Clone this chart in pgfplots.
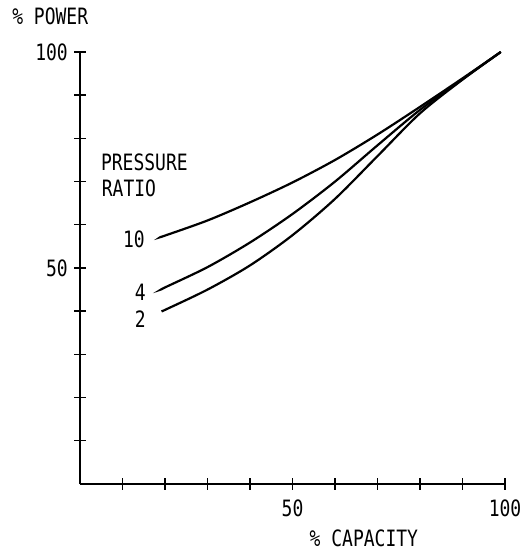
\documentclass[border=0pt]{standalone}
\usepackage{fontspec}
\setmainfont{DejaVu Sans Mono}[FakeStretch=0.8]
\usepackage{pgfplots}
\pgfplotsset{compat=1.18}
\begin{document}
\fontsize{22.5bp}{24bp}\selectfont
\begin{tikzpicture}[x=1bp,y=1bp]
\useasboundingbox (-80,-67) rectangle (440,484);
\begin{axis}[
  at={(0,0)}, anchor=origin,
  scale only axis, width=425bp, height=432bp,
  xmin=0, xmax=100, ymin=0, ymax=100,
  axis x line*=bottom, axis y line*=left,
  axis line style={line width=2bp, -},
  xtick={10,20,...,100}, ytick={10,20,...,100},
  xticklabels={,,,,50,,,,,100}, yticklabels={,,,,50,,,,,100},
  tick align=center, major tick length=11bp,
  tick style={line width=1.4bp, black},
  /pgf/number format/assume math mode=true,
  xticklabel style={font=\fontsize{22.5bp}{24bp}\selectfont, yshift=-3bp},
  yticklabel style={font=\fontsize{22.5bp}{24bp}\selectfont, xshift=1bp},
  clip=false,
]
\addplot[black, line width=2.2bp, smooth] coordinates {
 (19,57.2) (20,57.5) (30,61.0) (40,65.2) (50,69.8) (60,75.0) (70,80.9) (80,87.3) (90,93.9) (99,100)};
\addplot[black, line width=2.2bp, smooth] coordinates {
 (19.3,45.1) (20,45.5) (30,50.2) (40,55.9) (50,62.5) (60,70.0) (70,78.4) (80,86.6) (90,93.7) (99,100)};
\addplot[black, line width=2.2bp, smooth] coordinates {
 (19.5,40.1) (20,40.3) (30,45.0) (40,50.6) (50,57.6) (60,66.0) (70,75.9) (80,85.8) (90,93.6) (99,100)};
\node[anchor=west, inner sep=0pt] at (axis cs:4.9,74.5) {PRESSURE};
\node[anchor=west, inner sep=0pt] at (axis cs:5.1,68.5) {RATIO};
\node[anchor=east, inner sep=0pt] at (axis cs:15.3,56.7) {10};
\node[anchor=east, inner sep=0pt] at (axis cs:15.5,44.3) {4};
\node[anchor=east, inner sep=0pt] at (axis cs:15.5,38.2) {2};
\node[inner sep=0pt] at (axis cs:66.8,-12.5) {\% CAPACITY};
\node[inner sep=0pt] at (axis cs:-7,108.3) {\% POWER};
\end{axis}
\end{tikzpicture}
\end{document}
